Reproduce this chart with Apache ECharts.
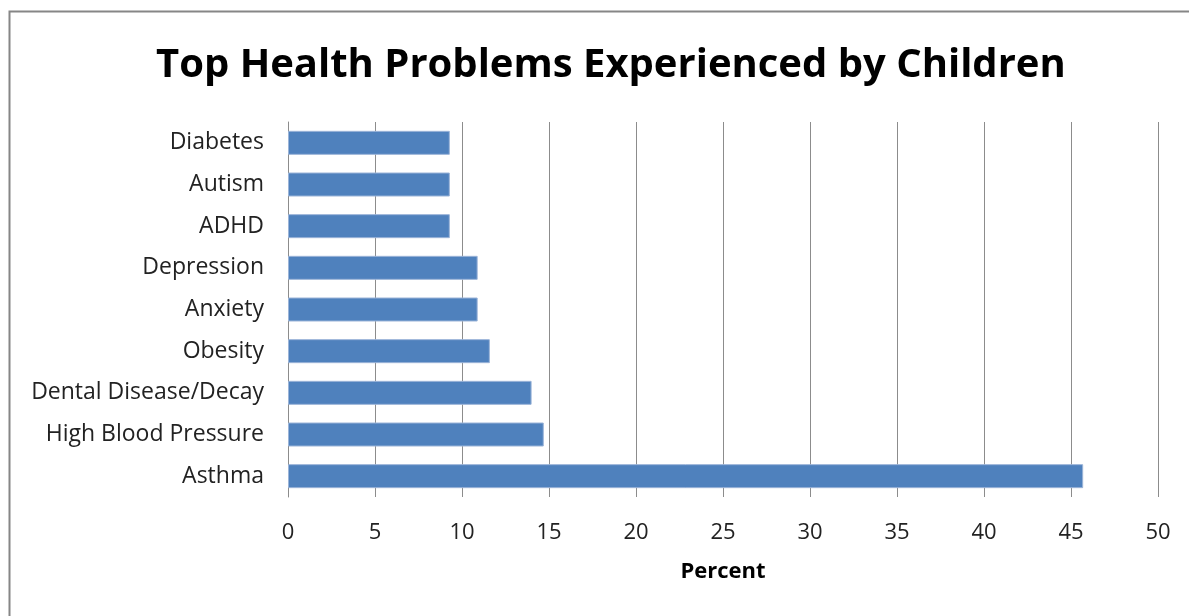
<!DOCTYPE html>
<html><head><meta charset="utf-8">
<script src="https://cdn.jsdelivr.net/npm/echarts@6/dist/echarts.min.js"></script>
<style>html,body{margin:0;padding:0;background:#fff}#c{width:1189px;height:616px}</style>
</head><body><div id="c"></div>
<script>
const categories = ['Asthma','High Blood Pressure','Dental Disease/Decay','Obesity','Anxiety','Depression','ADHD','Autism','Diabetes'];
const values = [45.7, 14.7, 14.0, 11.6, 10.9, 10.9, 9.3, 9.3, 9.3];
const xTicks = [0,5,10,15,20,25,30,35,40,45,50];

const chart = echarts.init(document.getElementById('c'), null, {renderer:'canvas'});
chart.setOption({
  animation:false,
  backgroundColor:'#fff',
  graphic:[{type:'rect', shape:{x:9.5,y:11.5,width:1200,height:700}, style:{fill:'none',stroke:'#868686',lineWidth:2}}],
  title:{text:'Top Health Problems Experienced by Children', left:151, top:41,
    textStyle:{fontFamily:'Open Sans', fontWeight:'bold', fontSize:40, color:'#000'}},
  grid:{left:288, right:31, top:122, bottom:119, containLabel:false},
  xAxis:{type:'value', min:0, max:50, interval:5,
    name:'Percent', nameLocation:'middle', nameGap:64,
    nameTextStyle:{fontFamily:'Open Sans', fontWeight:'bold', fontSize:22, color:'#000'},
    axisLine:{show:false}, axisTick:{show:false},
    axisLabel:{fontFamily:'Open Sans', fontSize:22, color:'#222', margin:25,
      formatter:v=>xTicks.includes(v)?String(v):''},
    splitLine:{show:true, lineStyle:{color:'#8c8c8c', width:1}}},
  yAxis:{type:'category', data:categories,
    axisLine:{show:true, lineStyle:{color:'#8c8c8c', width:1}}, axisTick:{show:false},
    axisLabel:{fontFamily:'Open Sans', fontSize:23, color:'#222', margin:24}},
  series:[{type:'bar', data:values, barWidth:24,
    itemStyle:{color:'#4f81bd', borderColor:'#9bb4d8', borderWidth:1}}]
});
</script></body></html>
